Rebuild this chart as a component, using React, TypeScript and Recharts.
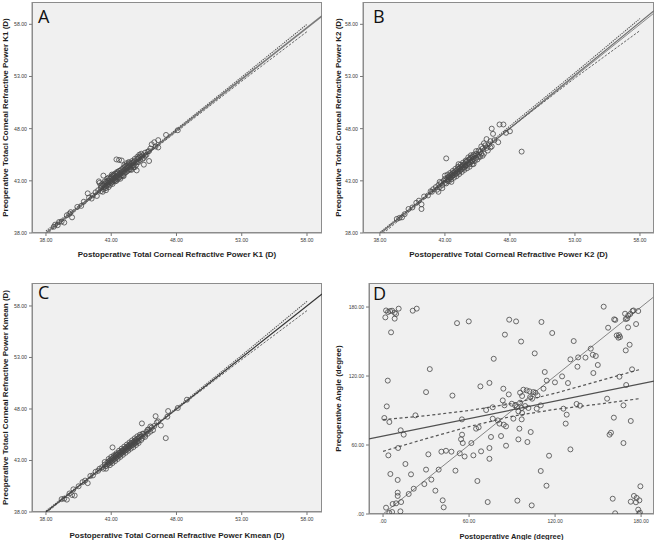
import React from 'react';
import { ScatterChart, Scatter, XAxis, YAxis, Label } from 'recharts';

type Pt = [number, number];

const kTicks = [38, 43, 48, 53, 58];
const angleTicks = [0, 60, 120, 180];

// A: K1 (postoperative, preoperative)
const k1Points: Pt[] = [
  [38.6, 38.6], [38.7, 38.8], [38.9, 38.75], [39.0, 39.05], [39.2, 39.1], [39.4, 39.0], [39.6, 39.7], [39.8, 39.85], [40.0, 39.5], [39.9, 40.0],
  [40.4, 40.5], [40.7, 40.6], [40.9, 41.0], [41.2, 41.8], [41.3, 41.4], [41.5, 41.3], [41.6, 41.6], [41.8, 41.9], [41.9, 41.55], [42.0, 42.1],
  [42.1, 42.8], [42.05, 42.95], [42.2, 42.0], [42.2, 42.3], [42.3, 42.5], [42.4, 43.5], [42.4, 42.2], [42.5, 42.7], [42.5, 42.4], [42.6, 42.5],
  [42.6, 42.9], [42.6, 42.1], [42.7, 42.6], [42.7, 42.8], [42.7, 43.2], [42.8, 42.7], [42.8, 43.0], [42.8, 42.4], [42.9, 42.9], [42.9, 43.2],
  [43.0, 42.8], [43.0, 43.0], [43.0, 43.4], [43.1, 43.1], [43.1, 42.9], [43.1, 43.5], [43.2, 43.2], [43.2, 43.0], [43.2, 43.6], [43.3, 43.3],
  [43.3, 43.1], [43.3, 43.7], [43.4, 43.4], [43.4, 43.0], [43.4, 45.05], [43.5, 43.5], [43.5, 43.3], [43.5, 43.8], [43.6, 43.6], [43.6, 43.3],
  [43.6, 45.0], [43.7, 43.7], [43.7, 44.0], [43.7, 43.4], [43.8, 43.8], [43.8, 44.95], [43.8, 43.5], [43.9, 43.9], [43.9, 44.2], [44.0, 44.0],
  [44.0, 43.7], [44.0, 44.3], [44.1, 44.1], [44.1, 44.4], [44.2, 44.2], [44.2, 43.9], [44.2, 44.7], [44.3, 44.3], [44.3, 44.55], [44.4, 44.4],
  [44.4, 44.1], [44.5, 44.6], [44.5, 44.3], [44.6, 44.7], [44.6, 44.45], [44.7, 44.8], [44.7, 44.5], [44.8, 44.9], [44.8, 44.3], [44.9, 44.8],
  [44.95, 44.0], [45.0, 45.1], [45.0, 44.8], [45.1, 45.2], [45.2, 45.0], [45.2, 45.35], [45.3, 45.3], [45.4, 45.45], [45.5, 45.2], [45.5, 44.55],
  [45.6, 45.7], [45.7, 45.5], [45.8, 45.8], [45.9, 44.9], [45.9, 45.85], [46.0, 46.1], [46.1, 46.5], [46.3, 46.7], [46.4, 46.3], [46.6, 46.2],
  [46.6, 46.9], [47.2, 47.4], [48.1, 47.85],
  [42.3, 42.7], [42.4, 42.6], [42.5, 42.95], [42.6, 42.3], [42.7, 43.0], [42.8, 43.3], [42.9, 42.6], [43.0, 43.3], [43.1, 42.7], [43.2, 43.45],
  [43.3, 42.95], [43.4, 43.7], [43.5, 43.15], [43.6, 43.95], [43.7, 43.2], [43.8, 44.1], [43.9, 43.5], [44.0, 44.5], [44.1, 43.8], [44.2, 44.45],
  [44.3, 44.0], [44.4, 44.7], [44.5, 44.1], [44.6, 44.9], [44.7, 44.3], [44.8, 45.1], [44.9, 44.5], [45.0, 45.3], [45.1, 44.8], [45.3, 45.6],
  [45.4, 45.1], [45.6, 45.4], [42.2, 42.55], [42.35, 41.95], [43.05, 43.6], [43.45, 43.85], [43.95, 43.45], [44.35, 44.8], [44.55, 44.05], [45.15, 45.5],
];

// B: K2
const k2Points: Pt[] = [
  [39.3, 39.35], [39.5, 39.45], [39.7, 39.5], [39.9, 39.8], [40.2, 40.3], [40.5, 40.45], [40.8, 40.9], [41.0, 41.1], [41.2, 40.3], [41.2, 40.75],
  [41.4, 41.5], [41.7, 41.6], [41.9, 42.0], [42.0, 41.95], [42.1, 42.2], [42.3, 42.4], [42.5, 41.95], [42.5, 42.6], [42.6, 42.4], [42.7, 42.8],
  [42.8, 42.6], [42.9, 43.0], [43.0, 42.8], [43.0, 43.2], [43.1, 45.15], [43.1, 43.1], [43.2, 43.3], [43.2, 43.0], [43.3, 43.4], [43.3, 43.15],
  [43.4, 43.5], [43.4, 43.3], [43.5, 42.9], [43.5, 43.6], [43.5, 43.4], [43.6, 43.7], [43.6, 43.5], [43.7, 43.8], [43.7, 43.55], [43.8, 43.9],
  [43.8, 43.65], [43.9, 44.0], [43.9, 43.7], [44.0, 44.1], [44.0, 43.85], [44.1, 44.2], [44.1, 43.9], [44.2, 44.3], [44.2, 44.05], [44.3, 44.4],
  [44.3, 44.1], [44.4, 44.5], [44.4, 44.25], [44.5, 44.6], [44.5, 44.3], [44.6, 44.8], [44.6, 44.45], [44.7, 44.9], [44.7, 44.5], [44.8, 44.7],
  [44.8, 45.0], [44.9, 45.1], [44.9, 44.6], [45.0, 45.2], [45.0, 44.8], [45.1, 45.3], [45.1, 44.9], [45.2, 45.1], [45.2, 44.6], [45.3, 45.4],
  [45.4, 45.2], [45.4, 45.6], [45.5, 45.5], [45.6, 45.3], [45.7, 45.8], [45.8, 45.6], [45.8, 46.3], [45.9, 45.4], [46.0, 46.6], [46.1, 46.4],
  [46.2, 47.0], [46.3, 45.9], [46.5, 46.2], [46.6, 48.0], [46.7, 47.5], [46.8, 46.9], [47.1, 46.7], [47.2, 48.4], [47.5, 48.4], [47.7, 47.6],
  [48.0, 47.75], [48.9, 45.8],
  [43.0, 43.5], [43.1, 42.75], [43.2, 43.6], [43.3, 42.95], [43.4, 43.75], [43.5, 43.15], [43.6, 43.95], [43.7, 43.3], [43.8, 44.15], [43.9, 43.45],
  [44.0, 44.35], [44.1, 43.65], [44.2, 44.55], [44.3, 43.85], [44.4, 44.75], [44.5, 44.05], [44.6, 44.95], [44.7, 44.2], [44.8, 45.25], [44.9, 44.35],
  [45.0, 45.45], [45.1, 44.6], [45.2, 45.5], [45.3, 44.9], [45.4, 45.85], [45.5, 45.05], [45.6, 45.9], [45.7, 45.3], [45.9, 46.1], [46.0, 45.6],
  [46.2, 46.15], [46.4, 46.5], [46.5, 46.8], [46.6, 46.3], [42.6, 42.9], [42.8, 42.3], [42.4, 42.15], [44.05, 44.6], [44.55, 44.45], [45.05, 44.9],
];

// C: Kmean
const kmPoints: Pt[] = [
  [39.2, 39.25], [39.4, 39.3], [39.6, 39.2], [39.8, 39.8], [40.0, 39.65], [40.2, 39.6], [40.1, 40.2], [40.5, 40.5], [40.8, 40.9], [41.0, 41.05],
  [41.2, 40.8], [41.4, 41.5], [41.6, 41.55], [41.8, 41.9], [42.0, 42.0], [42.1, 42.2], [42.3, 42.35], [42.4, 42.2], [42.5, 42.6], [42.6, 42.45],
  [42.7, 42.8], [42.7, 42.6], [42.8, 42.9], [42.8, 42.7], [42.9, 43.0], [42.9, 42.8], [43.0, 43.1], [43.0, 42.9], [43.1, 44.27], [43.1, 43.2],
  [43.1, 43.0], [43.2, 43.3], [43.2, 43.1], [43.3, 43.4], [43.3, 43.2], [43.4, 43.5], [43.4, 43.3], [43.5, 43.6], [43.5, 43.4], [43.6, 43.75],
  [43.6, 43.5], [43.7, 43.8], [43.7, 43.6], [43.8, 43.9], [43.8, 43.7], [43.9, 44.0], [43.9, 43.8], [44.0, 44.1], [44.0, 43.9], [44.1, 44.2],
  [44.1, 44.0], [44.2, 44.3], [44.2, 44.05], [44.3, 44.4], [44.3, 44.2], [44.4, 44.5], [44.4, 44.3], [44.5, 44.65], [44.5, 44.4], [44.6, 44.7],
  [44.6, 44.5], [44.7, 44.8], [44.7, 44.55], [44.8, 44.9], [44.8, 44.65], [44.9, 45.0], [44.9, 44.75], [45.0, 45.1], [45.0, 44.85], [45.1, 45.2],
  [45.1, 44.9], [45.2, 45.3], [45.3, 45.35], [45.35, 46.6], [45.4, 45.2], [45.5, 45.6], [45.6, 45.5], [45.7, 45.8], [45.8, 45.6], [45.9, 46.0],
  [46.0, 45.8], [46.1, 46.2], [46.3, 46.35], [46.4, 47.3], [46.6, 46.8], [46.8, 46.4], [47.18, 45.17], [47.3, 47.25], [47.36, 47.8], [48.1, 48.1],
  [48.8, 48.9],
  [42.8, 43.15], [42.9, 42.55], [43.0, 43.35], [43.1, 42.75], [43.2, 43.5], [43.3, 42.95], [43.4, 43.7], [43.5, 43.15], [43.6, 43.95], [43.7, 43.35],
  [43.8, 44.15], [43.9, 43.55], [44.0, 44.35], [44.1, 43.75], [44.2, 44.55], [44.3, 43.95], [44.4, 44.75], [44.5, 44.15], [44.6, 44.95], [44.7, 44.3],
  [44.8, 45.15], [44.9, 44.5], [45.0, 45.35], [45.1, 44.7], [45.2, 45.5], [45.3, 45.0], [45.4, 45.6], [45.6, 45.3], [45.8, 46.0], [46.0, 46.3],
  [46.2, 45.95], [46.5, 46.7], [42.5, 42.85], [42.6, 42.2], [43.35, 43.55], [43.85, 43.9], [44.35, 44.45], [44.85, 44.8],
];

// D: angle
const anglePoints: Pt[] = [
  [2.1, 177], [3.5, 175.7], [4.9, 176.5], [6.3, 176.8], [8.1, 175], [9.1, 174], [10.9, 178.6], [1.6, 171], [8.1, 169.9], [20.7, 176.8],
  [23.5, 178.6], [5.6, 158], [51.6, 166], [59.8, 167.5], [88, 169], [85, 156], [77.2, 135], [32.6, 126], [3.3, 116], [30, 106],
  [48.4, 103], [67.9, 111], [74.2, 114], [83.9, 109], [87.7, 104], [2.6, 93.6], [0.9, 83.5], [4.4, 80], [22.6, 85.8], [12.3, 72.8],
  [14.4, 69], [55, 82.3], [71.9, 90.4], [76.5, 92.8], [83.5, 98.8], [84.7, 94.5], [76.5, 82.9], [80, 81.4], [81.2, 78.6], [84.2, 77.7],
  [85.8, 76.2], [64.9, 74.2], [66.7, 75.4], [75.3, 67], [82.3, 67.8], [85.8, 59.4], [55.1, 69], [54.4, 65], [55.6, 61.7], [61.6, 61.7],
  [74.2, 57.4], [10.5, 57.4], [3.7, 51], [31.6, 51.9], [40.7, 54.2], [43.9, 55], [47.7, 54.2], [53.5, 52.8], [56.9, 50], [63, 51],
  [68.4, 54.5], [74.2, 48], [15.6, 43.5], [5.1, 34.8], [19.5, 34.5], [30, 38.6], [38.8, 38.6], [50.5, 37.7], [10.2, 29.6], [28.8, 26],
  [33.7, 29.9], [36.5, 20.3], [65.8, 28.7], [10.2, 18.6], [10.2, 15.7], [17.9, 17.4], [21.4, 22], [41.6, 11.9], [42.3, 5.8], [73, 10.4],
  [2.1, 5.5], [6.7, 8.7], [9.1, 9.3], [12.6, 10.4], [6.3, 1.7], [12.1, 2.3], [4.4, 0.9],
  [92.8, 167.5], [110.5, 167], [118, 157.4], [96.3, 150], [105.8, 139.7], [153.9, 180.3], [161.2, 169.3], [162, 168.8], [168.8, 174.2], [171, 172.5],
  [170.3, 170], [172.4, 173.9], [174, 176.5], [174.7, 177], [178, 176.5], [169.3, 169.5], [157, 162], [176.5, 165.2], [170.9, 162.3], [163, 155.3],
  [164.6, 155.6], [164.2, 153.3], [165.3, 153.9], [172, 147.2], [169.3, 142.3], [133, 150.4], [144.9, 143.8], [146.3, 138.5], [148.4, 137.4], [141.2, 136],
  [136.1, 136.2], [130.7, 134.5], [149.8, 129.6], [135.6, 128.1], [146.7, 122.6], [112.8, 123.5], [124.9, 119.7], [119.9, 114.5], [114.2, 116], [129, 113.9],
  [173.7, 125.8], [164.9, 119.4], [169.6, 112.2], [97.9, 108.1], [100.2, 107.5], [102.1, 106.7], [104.9, 106.1], [106.3, 105.5], [95.6, 105.5], [97, 102.6],
  [102.6, 101.7], [104, 100.3], [107.7, 103.2], [111.9, 109], [89.8, 95.9], [92.1, 94.5], [93.3, 93], [95.6, 96.8], [96.7, 92.2], [99.1, 93.9],
  [101.4, 92.2], [94.4, 89.3], [97, 87.8], [110, 94.5], [107.2, 91.6], [125.8, 91.6], [135, 95.7], [137.4, 94.2], [128.1, 86.4], [127.4, 78.6],
  [156.3, 100.3], [167.7, 94.5], [161, 83.8], [172.8, 80.9], [90.9, 82.9], [96.7, 82.3], [95.1, 74.2], [103, 71.3], [94.4, 64.9], [100.7, 62.6],
  [158, 69], [159, 70.7], [167.7, 61.7], [130.7, 56.2], [115.8, 50.7], [110, 37.4], [114, 24.6], [93.7, 11.6], [103.7, 7.5], [179.5, 24.1],
  [175, 15.7], [176.9, 14], [178.8, 11.9], [172.8, 10.7], [176.4, 10.2], [160.2, 13.3], [161.9, 0.6], [178, 3.8], [179.2, 1.2], [178.6, 0],
];

// fitted / reference lines and mean confidence bands
const k1Fit: Pt[] = [[38, 38], [59.15, 58.8]];
const k1Upper: Pt[] = [[38, 38.2], [43.6, 43.55], [48, 47.95], [53, 52.95], [58, 58.0]];
const k1Lower: Pt[] = [[38, 37.85], [43.6, 43.45], [48, 47.7], [53, 52.55], [58, 57.3]];

const k2Ref: Pt[] = [[38, 38], [59.08, 59.08]];
const k2Fit: Pt[] = [[38, 37.9], [59.08, 59.3]];
const k2Upper: Pt[] = [[38, 38.05], [44, 44.05], [48, 48.25], [53, 53.35], [58, 58.55]];
const k2Lower: Pt[] = [[38, 37.7], [44, 43.95], [48, 48.05], [53, 52.85], [58, 57.4]];

const kmFit: Pt[] = [[38, 38], [59.15, 59.16]];
const kmUpper: Pt[] = [[38, 38.1], [43.8, 43.82], [48, 48.1], [53, 53.2], [58, 58.45]];
const kmLower: Pt[] = [[38, 37.9], [43.8, 43.78], [48, 47.95], [53, 52.8], [58, 57.55]];

const angleRef: Pt[] = [[0, 0], [189, 189]];
const angleFit: Pt[] = [[-9.8, 65.4], [189, 115.5]];
const angleUpper: Pt[] = [[0, 82], [30, 85.5], [60, 90], [90, 96], [120, 105], [150, 115.5], [180, 126]];
const angleLower: Pt[] = [[0, 54.5], [30, 65.5], [60, 76], [90, 85], [120, 91], [150, 95.5], [180, 100.5]];

const toXY = (pts: Pt[]) => pts.map(([x, y]) => ({ x, y }));

const Ring = (props: any) => {
  const { cx, cy } = props;
  if (cx == null || cy == null) return <g />;
  return <circle cx={cx} cy={cy} r={2.5} fill="none" stroke="#484848" strokeWidth={0.8} />;
};
const NoDot = () => <g />;

interface LineSpec {
  data: Pt[];
  stroke: string;
  width: number;
  dash?: string;
}

interface PanelProps {
  left: number;
  top: number;
  width: number;
  height: number;
  margin: { top: number; right: number; left: number; bottom: number };
  yAxisWidth: number;
  xAxisHeight: number;
  xDomain: [number, number];
  yDomain: [number, number];
  xTicks: number[];
  yTicks: number[];
  fmt: (v: number) => string;
  tickSize: number;
  xLabel: string;
  yLabel: string;
  xLabelSize: number;
  xLabelOffset: number;
  yLabelOffset: number;
  points: Pt[];
  lines: LineSpec[];
  letter: string;
  letterLeft: number;
  letterTop: number;
}

const fmtK = (v: number) => v.toFixed(2);
const fmtAngle = (v: number) => (v === 0 ? '.00' : v.toFixed(2));

const Panel: React.FC<PanelProps> = (p) => {
  const plotLeft = p.margin.left + p.yAxisWidth;
  const plotTop = p.margin.top;
  const plotW = p.width - plotLeft - p.margin.right;
  const plotH = p.height - p.margin.top - p.margin.bottom - p.xAxisHeight;
  return (
    <div style={{ position: 'absolute', left: p.left, top: p.top, width: p.width, height: p.height }}>
      <div
        style={{
          position: 'absolute', left: plotLeft, top: plotTop, width: plotW, height: plotH,
          background: '#f0f0f0', border: '1px solid #8c8c8c', boxSizing: 'border-box',
        }}
      />
      <ScatterChart width={p.width} height={p.height} margin={p.margin}>
        <XAxis
          type="number"
          dataKey="x"
          domain={p.xDomain}
          ticks={p.xTicks}
          interval={0}
          allowDataOverflow
          tickFormatter={p.fmt}
          tickSize={3}
          tickMargin={2}
          height={p.xAxisHeight}
          tick={{ fontSize: p.tickSize, fill: '#3c3c3c' }}
          axisLine={{ stroke: '#8c8c8c' }}
          tickLine={{ stroke: '#777' }}
        >
          <Label
            value={p.xLabel}
            position="insideBottom"
            offset={p.xLabelOffset}
            style={{ fontSize: p.xLabelSize, fontWeight: 700, fill: '#1e1e1e' }}
          />
        </XAxis>
        <YAxis
          type="number"
          dataKey="y"
          domain={p.yDomain}
          ticks={p.yTicks}
          interval={0}
          allowDataOverflow
          tickFormatter={p.fmt}
          tickSize={3}
          tickMargin={2}
          width={p.yAxisWidth}
          tick={{ fontSize: p.tickSize, fill: '#3c3c3c' }}
          axisLine={{ stroke: '#8c8c8c' }}
          tickLine={{ stroke: '#777' }}
        >
          <Label
            value={p.yLabel}
            angle={-90}
            position="insideLeft"
            offset={p.yLabelOffset}
            style={{ textAnchor: 'middle', fontSize: 8, fontWeight: 700, fill: '#1e1e1e' }}
          />
        </YAxis>
        {p.lines.map((l, i) => (
          <Scatter
            key={i}
            data={toXY(l.data)}
            shape={NoDot}
            line={{ stroke: l.stroke, strokeWidth: l.width, strokeDasharray: l.dash }}
            isAnimationActive={false}
          />
        ))}
        <Scatter data={toXY(p.points)} shape={Ring} isAnimationActive={false} />
      </ScatterChart>
      <div
        style={{
          position: 'absolute', left: p.letterLeft, top: p.letterTop,
          fontFamily: '"Open Sans", sans-serif', fontSize: 18, lineHeight: '18px', color: '#111',
        }}
      >
        {p.letter}
      </div>
    </div>
  );
};

const kLabelY = (k: string) => `Preoperative Totacl Corneal Refractive Power ${k} (D)`;
const kLabelX = (k: string) => `Postoperative Total Corneal Refractive Power ${k} (D)`;

const App: React.FC = () => (
  <div
    style={{
      position: 'absolute', left: 0, top: 0, width: 658, height: 540, background: '#fff',
      fontFamily: '"Liberation Sans", Arial, sans-serif',
    }}
  >
    <Panel
      left={0} top={0} width={329} height={268}
      margin={{ top: 2, right: 7, left: 0, bottom: 0 }}
      yAxisWidth={32} xAxisHeight={35}
      xDomain={[36.93, 59.15]} yDomain={[38, 60.14]}
      xTicks={kTicks} yTicks={kTicks} fmt={fmtK} tickSize={5.2}
      xLabel={kLabelX('K1')} yLabel={kLabelY('K1')}
      xLabelSize={8} xLabelOffset={11} yLabelOffset={5.5}
      points={k1Points}
      lines={[
        { data: k1Fit, stroke: '#7a7a7a', width: 1.6 },
        { data: k1Upper, stroke: '#555', width: 1.1, dash: '1.3 1' },
        { data: k1Lower, stroke: '#666', width: 1, dash: '2.5 1.5' },
      ]}
      letter="A" letterLeft={38} letterTop={7}
    />
    <Panel
      left={329} top={0} width={329} height={268}
      margin={{ top: 2, right: 4, left: 0, bottom: 0 }}
      yAxisWidth={34} xAxisHeight={35}
      xDomain={[36.7, 59.08]} yDomain={[38, 60.14]}
      xTicks={kTicks} yTicks={kTicks} fmt={fmtK} tickSize={5.2}
      xLabel={kLabelX('K2')} yLabel={kLabelY('K2')}
      xLabelSize={8} xLabelOffset={11} yLabelOffset={9}
      points={k2Points}
      lines={[
        { data: k2Ref, stroke: '#8a8a8a', width: 1 },
        { data: k2Fit, stroke: '#707070', width: 1.1 },
        { data: k2Upper, stroke: '#555', width: 1.1, dash: '1.3 1' },
        { data: k2Lower, stroke: '#666', width: 1, dash: '2.5 1.5' },
      ]}
      letter="B" letterLeft={44} letterTop={7}
    />
    <Panel
      left={0} top={270} width={329} height={270}
      margin={{ top: 13, right: 7, left: 0, bottom: 0 }}
      yAxisWidth={32} xAxisHeight={28}
      xDomain={[36.93, 59.15]} yDomain={[38, 60.23]}
      xTicks={kTicks} yTicks={kTicks} fmt={fmtK} tickSize={5.2}
      xLabel={kLabelX('Kmean')} yLabel={kLabelY('Kmean')}
      xLabelSize={8} xLabelOffset={2} yLabelOffset={5.5}
      points={kmPoints}
      lines={[
        { data: kmFit, stroke: '#333', width: 1.2 },
        { data: kmUpper, stroke: '#555', width: 1.1, dash: '1.3 1' },
        { data: kmLower, stroke: '#666', width: 1, dash: '2.5 1.5' },
      ]}
      letter="C" letterLeft={38} letterTop={13}
    />
    <Panel
      left={329} top={270} width={329} height={270}
      margin={{ top: 13, right: 4, left: 0, bottom: 0 }}
      yAxisWidth={40} xAxisHeight={26}
      xDomain={[-9.8, 189]} yDomain={[0, 200.9]}
      xTicks={angleTicks} yTicks={angleTicks} fmt={fmtAngle} tickSize={5}
      xLabel="Postoperative Angle (degree)" yLabel="Preoperative Angle (degree)"
      xLabelSize={7.5} xLabelOffset={1} yLabelOffset={9.5}
      points={anglePoints}
      lines={[
        { data: angleRef, stroke: '#858585', width: 1 },
        { data: angleFit, stroke: '#505050', width: 1.3 },
        { data: angleUpper, stroke: '#555', width: 1.2, dash: '3 2.5' },
        { data: angleLower, stroke: '#555', width: 1.2, dash: '3 2.5' },
      ]}
      letter="D" letterLeft={44} letterTop={14}
    />
  </div>
);

export default App;
